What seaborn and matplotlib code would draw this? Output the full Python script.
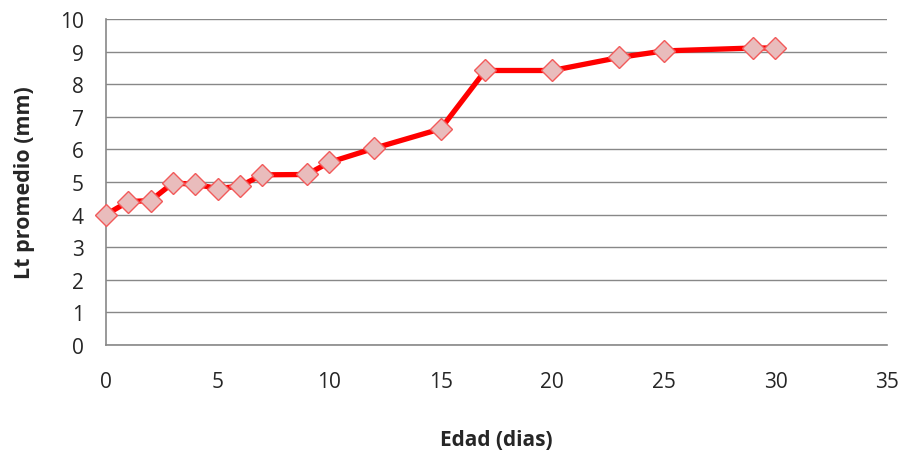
import matplotlib
matplotlib.use("Agg")
import matplotlib.pyplot as plt
import seaborn as sns
import pandas as pd

edad = [0, 1, 2, 3, 4, 5, 6, 7, 9, 10, 12, 15, 17, 20, 23, 25, 29, 30]
lt = [4.0, 4.4, 4.43, 4.97, 4.93, 4.8, 4.87, 5.22, 5.23, 5.6, 6.03, 6.63, 8.42, 8.42, 8.82, 9.02, 9.11, 9.11]
x_ticks = [0, 5, 10, 15, 20, 25, 30, 35]
y_ticks = [0, 1, 2, 3, 4, 5, 6, 7, 8, 9, 10]

df = pd.DataFrame({"Edad": edad, "Lt": lt})

sns.set_style("white")
plt.rcParams["font.family"] = ["Open Sans", "DejaVu Sans"]

fig = plt.figure(figsize=(9.02, 4.52), dpi=100)
ax = fig.add_axes([0.1175, 0.2345, 0.9834 - 0.1175, 0.9558 - 0.2345])

sns.lineplot(data=df, x="Edad", y="Lt", ax=ax, color="#FF0000", linewidth=3.8,
             marker="D", markersize=11, markerfacecolor="#E9BCBC",
             markeredgecolor="#F25A5A", markeredgewidth=1.0, zorder=3)
for ln in ax.lines:
    ln.set_clip_on(False)

ax.set_xlim(0, 35)
ax.set_ylim(0, 10)
ax.set_xticks(x_ticks)
ax.set_yticks(y_ticks)
ax.set_xticklabels([str(t) for t in x_ticks], fontsize=15)
ax.set_yticklabels([str(t) for t in y_ticks], fontsize=15)
ax.yaxis.grid(True, color="#888888", linewidth=1.0)
ax.xaxis.grid(False)
ax.set_axisbelow(True)
for s in ["top", "right"]:
    ax.spines[s].set_visible(False)
for s in ["left", "bottom"]:
    ax.spines[s].set_color("#888888")
    ax.spines[s].set_linewidth(1.2)
ax.tick_params(axis="x", direction="out", length=5, color="#888888", pad=14, width=1.2)
ax.tick_params(axis="y", direction="out", length=6, color="#888888", pad=10, width=1.2)

ax.set_xlabel("Edad (dias)", fontsize=15, fontweight="bold", labelpad=26)
ax.set_ylabel("Lt promedio (mm)", fontsize=15.5, fontweight="bold", labelpad=18)

fig.savefig("out.png", dpi=100, facecolor="white")
